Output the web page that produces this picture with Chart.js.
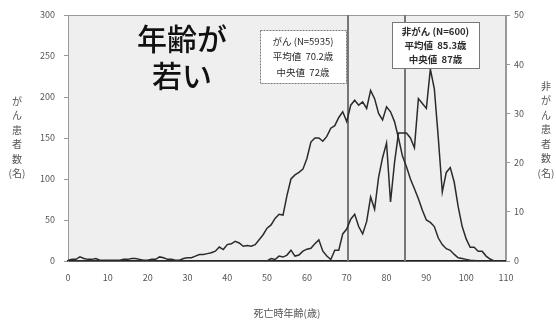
<!DOCTYPE html>
<html>
<head>
<meta charset="utf-8">
<script src="https://cdn.jsdelivr.net/npm/chart.js@4/dist/chart.umd.min.js"></script>
<style>
  html, body { margin: 0; padding: 0; background: #fff; }
  #wrap { width: 556px; height: 320px; }
</style>
</head>
<body>
<div id="wrap"><canvas id="chart" width="556" height="320"></canvas></div>
<script>
"use strict";

/* ── Data ────────────────────────────────────────────────── */
const AGES = [
  0, 1, 2, 3, 4, 5, 6, 7, 8, 9,
  10, 11, 12, 13, 14, 15, 16, 17, 18, 19,
  20, 21, 22, 23, 24, 25, 26, 27, 28, 29,
  30, 31, 32, 33, 34, 35, 36, 37, 38, 39,
  40, 41, 42, 43, 44, 45, 46, 47, 48, 49,
  50, 51, 52, 53, 54, 55, 56, 57, 58, 59,
  60, 61, 62, 63, 64, 65, 66, 67, 68, 69,
  70, 71, 72, 73, 74, 75, 76, 77, 78, 79,
  80, 81, 82, 83, 84, 85, 86, 87, 88, 89,
  90, 91, 92, 93, 94, 95, 96, 97, 98, 99,
  100, 101, 102, 103, 104, 105, 106, 107, 108, 109,
  110,
];

// がん患者数 (left axis)
const CANCER = [
  1, 2, 2, 5, 3, 2, 2, 3, 1, 1,
  1, 1, 1, 1, 2, 2, 3, 3, 2, 1,
  1, 2, 2, 5, 4, 2, 2, 1, 1, 3,
  4, 4, 6, 8, 8, 9, 10, 12, 17, 14,
  20, 21, 24, 22, 18, 19, 18, 20, 26, 32,
  40, 44, 52, 57, 56, 80, 100, 105, 108, 112,
  125, 145, 150, 150, 146, 152, 162, 165, 175, 182,
  170, 190, 196, 190, 194, 186, 208, 198, 180, 172,
  188, 182, 170, 150, 128, 115, 100, 88, 76, 62,
  50, 47, 42, 28, 20, 15, 13, 8, 4, 3,
  2, 1, 0.5, 0, 0, 0, 0, 0, 0, 0,
  0,
];

// 非がん患者数 (right axis)
const NON_CANCER = [
  0, 0, 0, 0, 0, 0, 0, 0, 0, 0,
  0, 0, 0, 0, 0, 0, 0, 0, 0, 0,
  0, 0, 0, 0, 0, 0, 0, 0, 0, 0,
  0, 0, 0, 0, 0, 0, 0, 0, 0, 0,
  0, 0, 0, 0, 0, 0, 0, 0, 0, 0,
  0, 0.5, 0.3, 1, 0.8, 1.2, 2.2, 1, 1.2, 2,
  2.4, 2.6, 3.5, 4.3, 2, 1, 0.3, 2.2, 2.2, 5.5,
  6.5, 8.5, 9.5, 7, 5.5, 8, 13, 10.5, 17, 21,
  24, 12, 20, 26, 26, 26, 25, 23, 33, 32,
  31, 39, 35, 25, 14, 18, 19, 16, 11, 7,
  4.5, 2.8, 2.8, 2, 2, 1, 0.4, 0, 0, 0,
  0,
];

const MEAN_LINES   = [70.2, 84.6];
const LEFT_TITLE   = ['が', 'ん', '患', '者', '数', '(名)'];
const RIGHT_TITLE  = ['非', 'が', 'ん', '患', '者', '数', '(名)'];
const X_TITLE      = '死亡時年齢(歳)';
const BIG_TEXT     = ['年齢が', '若い'];
const BOX_CANCER   = ['がん (N=5935)', '平均値  70.2歳', '中央値  72歳'];
const BOX_NON      = ['非がん (N=600)', '平均値  85.3歳', '中央値  87歳'];

/* ── Style ───────────────────────────────────────────────── */
const FONT = '"Noto Sans CJK JP", "Noto Sans", sans-serif';
const INK  = '#2b2b2b';
const TICK = '#555';

const toPoints = vals => AGES.map((a, i) => ({ x: a, y: vals[i] }));

/* ── Custom drawing: plot background, mean lines, notes ───── */
const decor = {
  id: 'decor',
  beforeDraw(chart) {
    const { ctx, chartArea: a } = chart;
    ctx.save();
    ctx.fillStyle = '#efefef';
    ctx.fillRect(a.left, a.top, a.right - a.left, a.bottom - a.top);
    ctx.strokeStyle = '#999';
    ctx.lineWidth = 1;
    ctx.strokeRect(a.left + 0.5, a.top + 0.5, a.right - a.left - 1, a.bottom - a.top);
    ctx.restore();
  },
  beforeDatasetsDraw(chart) {
    const { ctx, chartArea: a, scales } = chart;
    ctx.save();
    ctx.strokeStyle = '#777';
    ctx.lineWidth = 2;
    MEAN_LINES.forEach(m => {
      const px = Math.round(scales.x.getPixelForValue(m));
      ctx.beginPath();
      ctx.moveTo(px, a.top);
      ctx.lineTo(px, a.bottom);
      ctx.stroke();
    });
    ctx.restore();
  },
  afterDraw(chart) {
    const { ctx } = chart;
    ctx.save();

    // note boxes
    const box = (x, y, w, h, lines, top, step, weight, dash) => {
      ctx.fillStyle = '#fff';
      ctx.fillRect(x, y, w, h);
      ctx.strokeStyle = '#777';
      ctx.lineWidth = 1;
      ctx.setLineDash(dash);
      ctx.strokeRect(x + 0.5, y + 0.5, w, h);
      ctx.setLineDash([]);
      ctx.fillStyle = INK;
      ctx.font = `${weight} 9.5px ${FONT}`;
      ctx.textAlign = 'center';
      ctx.textBaseline = 'middle';
      lines.forEach((t, i) => ctx.fillText(t, x + w / 2, top + i * step));
    };
    box(260, 30, 86, 53, BOX_CANCER, 41, 15.5, 'normal', [2, 1]);
    box(392, 22, 87, 46, BOX_NON, 31, 14, 'bold', []);

    // big caption
    ctx.fillStyle = '#111';
    ctx.font = `500 30px ${FONT}`;
    ctx.textAlign = 'center';
    ctx.textBaseline = 'middle';
    ctx.fillText(BIG_TEXT[0], 182, 39);
    ctx.fillText(BIG_TEXT[1], 182, 76);

    // vertical axis titles
    ctx.fillStyle = TICK;
    ctx.font = `10px ${FONT}`;
    LEFT_TITLE.forEach((c, i) => ctx.fillText(c, 17, 101 + i * 14.5));
    RIGHT_TITLE.forEach((c, i) => ctx.fillText(c, 546, 86 + i * 14.5));
    ctx.restore();
  },
};

/* ── Chart ───────────────────────────────────────────────── */
const lineStyle = {
  borderColor: INK,
  borderWidth: 1.5,
  pointRadius: 0,
  fill: false,
  tension: 0,
};

new Chart(document.getElementById('chart'), {
  type: 'line',
  data: {
    datasets: [
      { label: 'がん', data: toPoints(CANCER), yAxisID: 'y', ...lineStyle },
      { label: '非がん', data: toPoints(NON_CANCER), yAxisID: 'y2', ...lineStyle },
    ],
  },
  options: {
    responsive: false,
    animation: false,
    layout: { padding: { top: 15, left: 0, right: 0, bottom: 0 } },
    plugins: { legend: { display: false }, tooltip: { enabled: false } },
    scales: {
      x: {
        type: 'linear',
        min: 0,
        max: 110,
        ticks: { stepSize: 10, color: TICK, font: { family: FONT, size: 9 }, padding: 11, maxRotation: 0 },
        grid: { display: false, drawTicks: false },
        border: { color: '#222', width: 1.5 },
        title: { display: true, text: X_TITLE, color: TICK, font: { family: FONT, size: 10 }, padding: { top: 0, bottom: 1 } },
        afterFit: s => { s.height = 59; },
      },
      y: {
        position: 'left',
        min: 0,
        max: 300,
        ticks: { stepSize: 50, color: TICK, font: { family: FONT, size: 9 }, padding: 9 },
        grid: { drawOnChartArea: false, tickLength: 4, color: '#999' },
        border: { color: '#999' },
        afterFit: s => { s.width = 68; },
      },
      y2: {
        position: 'right',
        min: 0,
        max: 50,
        ticks: { stepSize: 10, color: TICK, font: { family: FONT, size: 9 }, padding: 4 },
        grid: { drawOnChartArea: false, tickLength: 4, color: '#999' },
        border: { color: '#999' },
        afterFit: s => { s.width = 50; },
      },
    },
  },
  plugins: [decor],
});
</script>
</body>
</html>
